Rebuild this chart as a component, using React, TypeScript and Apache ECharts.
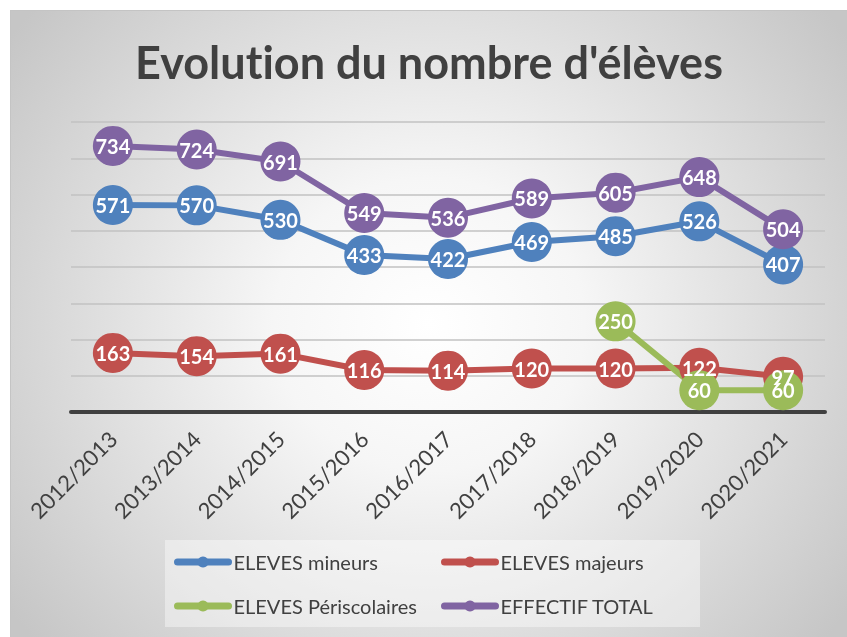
import React, { useEffect, useRef } from "react";
import * as echarts from "echarts";

const categories = [
  "2012/2013",
  "2013/2014",
  "2014/2015",
  "2015/2016",
  "2016/2017",
  "2017/2018",
  "2018/2019",
  "2019/2020",
  "2020/2021",
];
const mineurs = [571, 570, 530, 433, 422, 469, 485, 526, 407];
const majeurs = [163, 154, 161, 116, 114, 120, 120, 122, 97];
const periscolaires = [null, null, null, null, null, null, 250, 60, 60];
const total = [734, 724, 691, 549, 536, 589, 605, 648, 504];
const seriesNames = [
  "ELEVES mineurs",
  "ELEVES majeurs",
  "ELEVES Périscolaires",
  "EFFECTIF TOTAL",
];
const colors = ["#4f81bd", "#c0504d", "#9bbb59", "#8064a2"];
const titleText = "Evolution du nombre d'élèves";

const FONT = "Lato, 'Open Sans', sans-serif";

export default function App() {
  const ref = useRef<HTMLDivElement>(null);
  useEffect(() => {
    if (!ref.current) return;
    const chart = echarts.init(ref.current, undefined, { renderer: "svg" });
    const data = [mineurs, majeurs, periscolaires, total];
    const series = data.map((d, i) => ({
      name: seriesNames[i],
      type: "line",
      data: d,
      symbol: "circle",
      symbolSize: 40,
      connectNulls: false,
      lineStyle: { width: 6, color: colors[i] },
      itemStyle: { color: colors[i] },
      label: {
        show: true,
        position: "inside",
        color: "#ffffff",
        fontFamily: FONT,
        fontWeight: "bold",
        fontSize: 20,
      },
      emphasis: { disabled: true },
    }));
    const legendCommon = {
      orient: "vertical",
      itemWidth: 51,
      itemHeight: 14,
      itemGap: 24,
      textStyle: { color: "#404040", fontFamily: FONT, fontSize: 20 },
      lineStyle: { width: 7, cap: "round" },
      selectedMode: false,
      padding: 0,
    };
    chart.setOption({
      animation: false,
      color: colors,
      backgroundColor: "transparent",
      title: {
        text: titleText,
        left: "center",
        top: 23,
        textStyle: {
          fontFamily: FONT,
          fontWeight: "bold",
          fontSize: 45,
          color: "#404040",
        },
      },
      graphic: [
        {
          type: "rect",
          z: 0,
          shape: { x: 154, y: 529, width: 535, height: 87 },
          style: { fill: "rgba(255,255,255,0.4)" },
          silent: true,
        },
      ],
      legend: [
        { ...legendCommon, data: [seriesNames[0], seriesNames[2]], left: 163, top: 541 },
        { ...legendCommon, data: [seriesNames[1], seriesNames[3]], left: 430, top: 541 },
      ],
      grid: { left: 60, right: 22, top: 111, bottom: 225 },
      xAxis: {
        type: "category",
        data: categories,
        boundaryGap: true,
        axisLine: { show: true, lineStyle: { color: "#404040", width: 4 } },
        axisTick: { show: false },
        axisLabel: {
          rotate: 45,
          interval: 0,
          margin: 23,
          padding: [22, 0, 0, 0],
          color: "#404040",
          fontFamily: FONT,
          fontSize: 22,
        },
      },
      yAxis: {
        type: "value",
        min: 0,
        max: 800,
        interval: 100,
        axisLabel: { show: false },
        axisLine: { show: false },
        axisTick: { show: false },
        splitLine: { lineStyle: { color: "#c2c2c2", width: 1.5 } },
      },
      series,
    });
    return () => chart.dispose();
  }, []);
  return (
    <div
      style={{
        position: "fixed",
        left: 10,
        top: 10,
        width: 837,
        height: 627,
        boxSizing: "border-box",
        borderTop: "1px solid #c4c4c4",
        borderLeft: "1px solid #c4c4c4",
        fontVariantLigatures: "none",
        background:
          "radial-gradient(ellipse 62% 78% at 50% 50%, #ffffff 0%, #f6f6f6 30%, #c6c6c6 100%)",
      }}
    >
      <div ref={ref} style={{ width: 836, height: 626 }} />
    </div>
  );
}
